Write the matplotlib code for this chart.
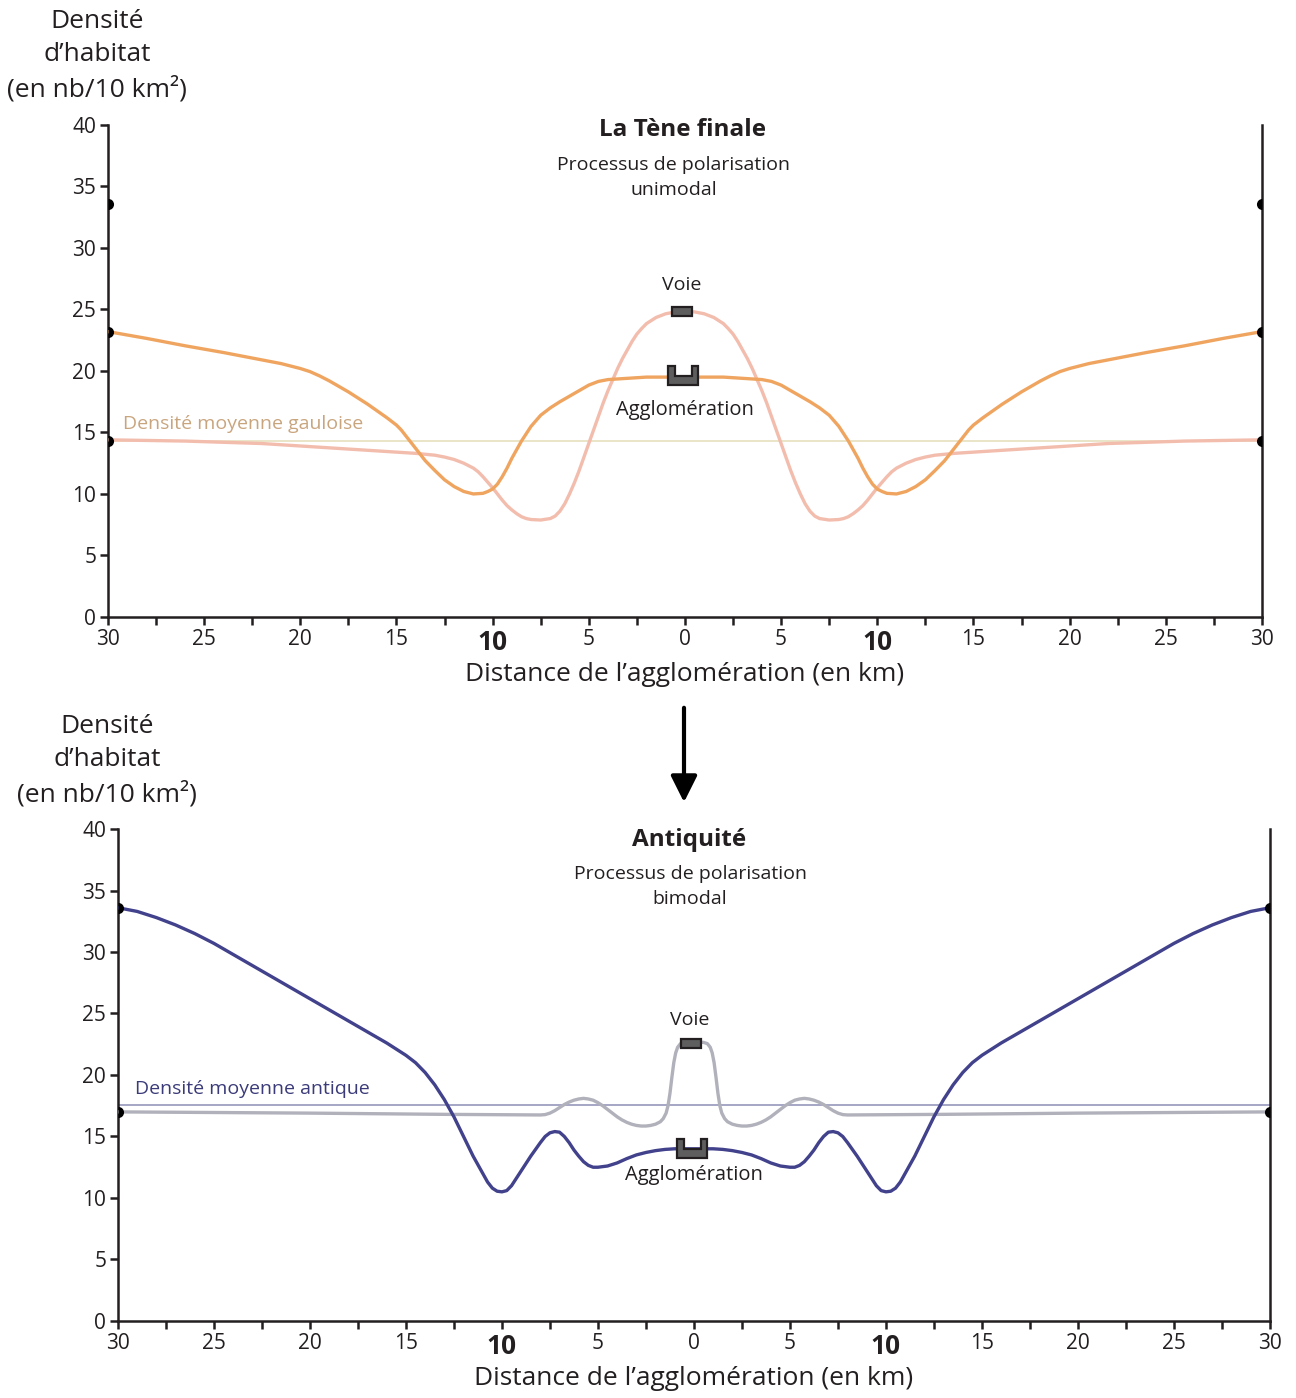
import matplotlib as mpl
import matplotlib.pyplot as plt
import matplotlib.transforms as mtransforms
from matplotlib.patches import Polygon, Rectangle, FancyArrowPatch

mpl.rcParams['font.family'] = ['Open Sans', 'DejaVu Sans']
mpl.rcParams['text.color'] = '#231f20'

# Each profile is density vs distance from the agglomeration (km);
# the chart shows it on both sides of the agglomeration.

# --- La Tene finale (top panel) ---
TENE_AGGLO_D = [0, 1, 2, 3, 4, 4.5, 5, 5.5, 6, 6.5, 7, 7.5, 7.75, 8, 8.25, 8.5, 8.75, 9, 9.25,
                9.5, 9.75, 10, 10.25, 10.5, 11, 11.5, 12, 12.5, 13, 13.5, 14, 14.25, 14.5,
                14.75, 15, 15.5, 16, 16.5, 17, 17.5, 18, 18.5, 19, 19.5, 20, 21, 22, 24, 26,
                28, 30]
TENE_AGGLO_Y = [19.5, 19.5, 19.5, 19.4, 19.3, 19.15, 18.85, 18.4, 17.95, 17.5, 17.0, 16.4,
                15.95, 15.5, 14.9, 14.3, 13.6, 12.9, 12.1, 11.4, 10.8, 10.4, 10.2, 10.05, 10.0,
                10.2, 10.6, 11.15, 11.9, 12.7, 13.7, 14.2, 14.7, 15.2, 15.6, 16.2, 16.75, 17.3,
                17.8, 18.3, 18.75, 19.2, 19.6, 19.95, 20.2, 20.6, 20.9, 21.5, 22.05, 22.65, 23.2]

TENE_VOIE_D = [0, 0.5, 1, 1.5, 2, 2.25, 2.5, 2.75, 3, 3.25, 3.5, 3.75, 4, 4.25, 4.5, 4.75, 5,
               5.25, 5.5, 5.75, 6, 6.25, 6.5, 6.75, 7, 7.5, 8, 8.25, 8.5, 8.75, 9, 9.25, 9.5,
               9.75, 10, 10.25, 10.5, 10.75, 11, 11.5, 12, 12.5, 13, 14, 15, 17, 19, 22, 26, 30]
TENE_VOIE_Y = [24.85, 24.8, 24.65, 24.35, 23.85, 23.45, 23.0, 22.4, 21.7, 21.0, 20.2, 19.3,
               18.4, 17.4, 16.3, 15.2, 14.1, 13.0, 11.9, 10.9, 10.0, 9.2, 8.6, 8.2, 8.0, 7.88,
               7.92, 8.0, 8.15, 8.4, 8.7, 9.05, 9.5, 10.0, 10.5, 10.95, 11.4, 11.8, 12.1, 12.5,
               12.8, 13.0, 13.15, 13.3, 13.4, 13.6, 13.8, 14.1, 14.3, 14.4]
TENE_MEAN = 14.3
TENE_DOTS = [33.6, 23.2, 14.3]

# --- Antiquite (bottom panel) ---
ANT_AGGLO_D = [0, 1, 1.5, 2, 2.5, 3, 3.5, 4, 4.5, 5, 5.25, 5.5, 5.75, 6, 6.25, 6.5, 6.75, 7,
               7.25, 7.5, 7.75, 8, 8.5, 9, 9.25, 9.5, 9.75, 10, 10.25, 10.5, 10.75, 11, 11.5,
               12, 12.5, 13, 13.5, 14, 14.5, 15, 15.5, 16, 17, 18, 19, 20, 21, 22, 23, 24, 25,
               26, 27, 28, 29, 30]
ANT_AGGLO_Y = [14.0, 14.0, 13.95, 13.85, 13.7, 13.5, 13.2, 12.85, 12.6, 12.5, 12.5, 12.65,
               12.95, 13.4, 13.9, 14.5, 15.0, 15.35, 15.4, 15.3, 15.0, 14.5, 13.4, 12.2, 11.6,
               11.0, 10.6, 10.5, 10.55, 10.8, 11.3, 12.0, 13.4, 15.0, 16.6, 18.0, 19.2, 20.2,
               21.0, 21.6, 22.1, 22.6, 23.5, 24.4, 25.3, 26.2, 27.1, 28.0, 28.9, 29.8, 30.7,
               31.5, 32.2, 32.8, 33.3, 33.6]

ANT_VOIE_D = [0, 0.5, 0.7, 0.85, 0.95, 1.05, 1.15, 1.25, 1.35, 1.45, 1.6, 1.75, 2, 2.25, 2.5,
              2.75, 3, 3.25, 3.5, 3.75, 4, 4.25, 4.5, 4.75, 5, 5.25, 5.5, 5.75, 6, 6.25, 6.5,
              6.75, 7, 7.25, 7.5, 7.75, 8, 13, 20, 30]
ANT_VOIE_Y = [22.7, 22.65, 22.55, 22.25, 21.8, 21.0, 19.8, 18.5, 17.5, 16.9, 16.45, 16.2, 16.0,
              15.9, 15.85, 15.85, 15.9, 16.0, 16.15, 16.35, 16.6, 16.9, 17.2, 17.5, 17.75,
              17.95, 18.05, 18.1, 18.05, 17.95, 17.8, 17.6, 17.35, 17.1, 16.9, 16.78, 16.75,
              16.8, 16.9, 17.0]
ANT_MEAN = 17.6
ANT_DOTS = [33.6, 17.0]

X_TICKS = [-30, -25, -20, -15, -10, -5, 0, 5, 10, 15, 20, 25, 30]
X_MINOR = [-27.5, -22.5, -17.5, -12.5, -7.5, -2.5, 2.5, 7.5, 12.5, 17.5, 22.5, 27.5]
Y_TICKS = [0, 5, 10, 15, 20, 25, 30, 35, 40]

ORANGE = '#efa560'
PINK = '#f3bdae'
NAVY = '#41418c'
GREY = '#b1b1bb'
DARK = '#231f20'


def both_sides(dist, vals):
    # same profile drawn on each side of the agglomeration
    xs = [-d for d in reversed(dist)] + list(dist[1:])
    ys = list(reversed(vals)) + list(vals[1:])
    return xs, ys


def icon_voie(fig, ax, x, y):
    tr = fig.dpi_scale_trans + mtransforms.ScaledTranslation(x, y, ax.transData)
    ax.add_patch(Rectangle((-0.10, -0.045), 0.20, 0.09, transform=tr, facecolor='#5e5e5e',
                           edgecolor=DARK, lw=1.6, zorder=6, clip_on=False))


def icon_agglo(fig, ax, x, y):
    tr = fig.dpi_scale_trans + mtransforms.ScaledTranslation(x, y, ax.transData)
    pts = [(-0.15, -0.095), (0.15, -0.095), (0.15, 0.095), (0.085, 0.095), (0.085, 0.0),
           (-0.085, 0.0), (-0.085, 0.095), (-0.15, 0.095)]
    ax.add_patch(Polygon(pts, closed=True, transform=tr, facecolor='#5e5e5e',
                         edgecolor=DARK, lw=1.6, zorder=6, clip_on=False))


def setup_axes(ax):
    ax.set_xlim(-30, 30)
    ax.set_ylim(0, 40)
    ax.spines['top'].set_visible(False)
    for s in ['left', 'bottom', 'right']:
        ax.spines[s].set_linewidth(1.8)
        ax.spines[s].set_color(DARK)
    ax.set_yticks(Y_TICKS)
    ax.set_yticklabels([str(v) for v in Y_TICKS])
    ax.set_xticks(X_TICKS)
    ax.set_xticklabels([str(abs(v)) for v in X_TICKS])
    ax.set_xticks(X_MINOR, minor=True)
    ax.tick_params(axis='both', which='both', direction='out', length=6, width=1.8,
                   color=DARK, labelsize=15, labelcolor=DARK, pad=2.5)
    ax.tick_params(axis='x', which='major', pad=3)
    for lab, v in zip(ax.get_xticklabels(), X_TICKS):
        if abs(v) == 10:
            lab.set_fontweight('bold')
            lab.set_fontsize(19)
    ax.set_xlabel('Distance de l\u2019agglomération (en km)', fontsize=19, color=DARK,
                  labelpad=4)


def spine_dots(ax, values):
    ax.plot([-30] * len(values), values, ls='none', marker='o', ms=8, mew=0, color='black',
            fillstyle='right', clip_on=False, zorder=7)
    ax.plot([30] * len(values), values, ls='none', marker='o', ms=8, mew=0, color='black',
            fillstyle='left', clip_on=False, zorder=7)


fig = plt.figure(figsize=(12.96, 13.98), dpi=100)
ax1 = fig.add_axes([0.0833, 0.5587, 0.8904, 0.3519])
ax2 = fig.add_axes([0.0910, 0.0551, 0.8889, 0.3519])

# top panel
setup_axes(ax1)
ax1.axhline(TENE_MEAN, color='#e4ddb8', lw=1.1, zorder=1)
ax1.plot(*both_sides(TENE_VOIE_D, TENE_VOIE_Y), color=PINK, lw=2.4,
         solid_joinstyle='round', zorder=3)
ax1.plot(*both_sides(TENE_AGGLO_D, TENE_AGGLO_Y), color=ORANGE, lw=2.4,
         solid_joinstyle='round', zorder=4)
spine_dots(ax1, TENE_DOTS)
ax1.text(-29.2, 15.7, 'Densité moyenne gauloise', color='#c9a57e', fontsize=14,
         ha='left', va='center')
ax1.text(-0.15, 39.6, 'La Tène finale', fontsize=17.5, fontweight='bold', ha='center',
         va='center')
ax1.text(-0.57, 35.75, 'Processus de polarisation\nunimodal', fontsize=14, ha='center',
         va='center', linespacing=1.5)
ax1.text(-0.15, 27.0, 'Voie', fontsize=14, ha='center', va='center')
ax1.text(0.0, 16.8, 'Agglomération', fontsize=14.5, ha='center', va='center')
icon_voie(fig, ax1, -0.15, 24.8)
icon_agglo(fig, ax1, -0.1, 19.6)

# bottom panel
setup_axes(ax2)
ax2.axhline(ANT_MEAN, color='#8d8db5', lw=1.1, zorder=1)
ax2.plot(*both_sides(ANT_VOIE_D, ANT_VOIE_Y), color=GREY, lw=2.4,
         solid_joinstyle='round', zorder=3)
ax2.plot(*both_sides(ANT_AGGLO_D, ANT_AGGLO_Y), color=NAVY, lw=2.4,
         solid_joinstyle='round', zorder=4)
spine_dots(ax2, ANT_DOTS)
ax2.text(-29.1, 18.9, 'Densité moyenne antique', color='#3b3b7a', fontsize=14,
         ha='left', va='center')
ax2.text(-0.26, 39.1, 'Antiquité', fontsize=17.5, fontweight='bold', ha='center', va='center')
ax2.text(-0.2, 35.3, 'Processus de polarisation\nbimodal', fontsize=14, ha='center',
         va='center', linespacing=1.5)
ax2.text(-0.2, 24.5, 'Voie', fontsize=14, ha='center', va='center')
ax2.text(0.0, 11.9, 'Agglomération', fontsize=14.5, ha='center', va='center')
icon_voie(fig, ax2, -0.15, 22.6)
icon_agglo(fig, ax2, -0.1, 14.0)

# y axis titles
ylab = 'Densité\nd\u2019habitat\n(en nb/10 km²)'
fig.text(97 / 1296, 1 - 56 / 1398, ylab, fontsize=19, ha='center', va='center',
         linespacing=1.42, color=DARK)
fig.text(107 / 1296, 1 - 761 / 1398, ylab, fontsize=19, ha='center', va='center',
         linespacing=1.42, color=DARK)

# arrow between panels
fig.add_artist(FancyArrowPatch((684 / 1296, 1 - 705 / 1398), (684 / 1296, 1 - 805 / 1398),
                               transform=fig.transFigure, arrowstyle='-|>',
                               mutation_scale=40, lw=3, color='black'))

fig.savefig('out.png', dpi=100, facecolor='white')
